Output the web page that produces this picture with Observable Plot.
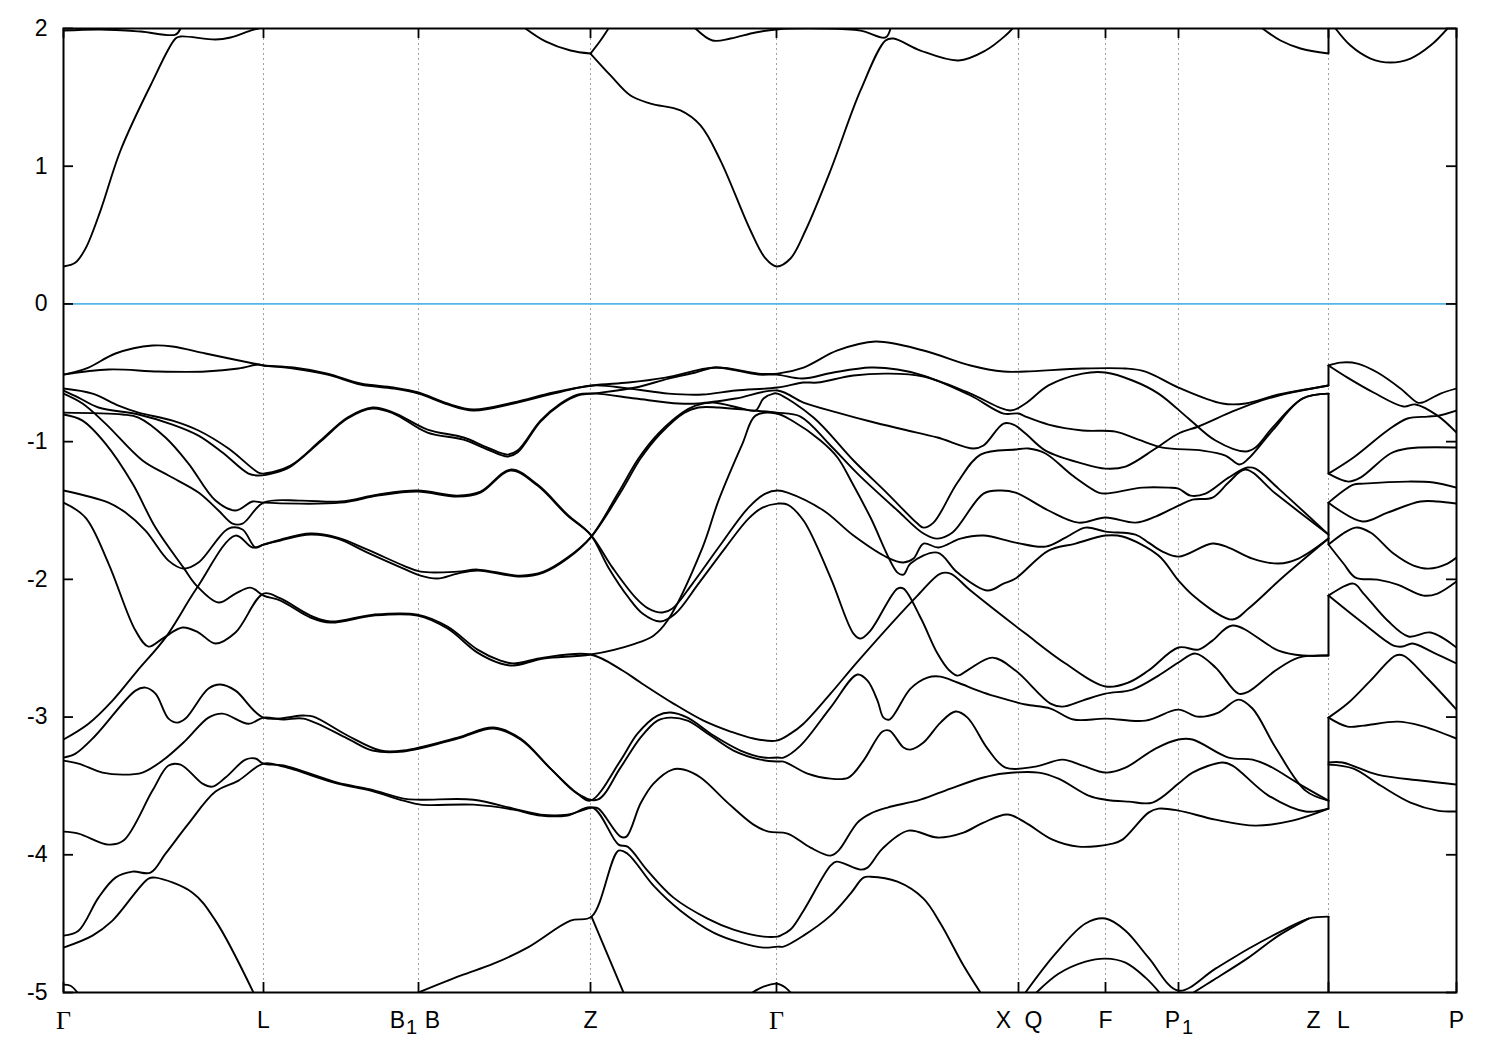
<!DOCTYPE html>
<html><head><meta charset="utf-8">
<script src="https://cdn.jsdelivr.net/npm/d3@7"></script>
<script src="https://cdn.jsdelivr.net/npm/@observablehq/plot@0.6"></script>
<style>html,body{margin:0;padding:0;background:#fff}svg{display:block}</style>
</head><body><div id="chart"></div>
<script>
// k-path position, energy (eV)
const bandA=[[0,-.513],[25,-.462],[52,-.360],[89,-.302],[109,-.309],[142,-.360],[195,-.440],[200,-.447],[230,-.462],[264,-.506],[297,-.578],[330,-.607],[355,-.643],[384,-.723],[410,-.767],[450,-.716],[490,-.643],[529,-.592],[565,-.571],[602,-.535],[652,-.462],[695,-.506],[714,-.506],[740,-.462],[774,-.338],[812,-.273],[860,-.338],[907,-.447],[940,-.491],[962,-.491],[1019,-.469],[1062,-.469],[1082,-.491],[1115,-.607],[1159,-.723],[1182,-.723],[1215,-.658],[1265,-.592]];
const bandB=[[0,-.513],[45,-.476],[95,-.491],[142,-.491],[175,-.469],[195,-.440],[200,-.447],[230,-.469],[264,-.513],[297,-.585],[330,-.614],[355,-.651],[384,-.730],[410,-.774],[450,-.723],[490,-.651],[529,-.592],[565,-.614],[605,-.651],[639,-.658],[672,-.629],[714,-.607],[740,-.571],[754,-.571],[790,-.520],[824,-.506],[860,-.527],[907,-.651],[947,-.774],[962,-.723],[985,-.592],[1019,-.506],[1042,-.498],[1069,-.556],[1095,-.651],[1125,-.832],[1152,-.992],[1182,-1.072],[1192,-1.043],[1209,-.898],[1239,-.687],[1265,-.651]];
const bandC=[[0,-.614],[29,-.651],[55,-.738],[75,-.789],[109,-.847],[135,-.919],[165,-1.050],[195,-1.225],[200,-1.232],[227,-1.174],[257,-.992],[284,-.825],[309,-.752],[330,-.789],[364,-.912],[400,-.970],[424,-1.043],[444,-1.094],[454,-1.065],[477,-.847],[497,-.723],[514,-.658],[532,-.651],[572,-.687],[615,-.723],[635,-.723],[672,-.687],[714,-.629],[740,-.716],[774,-.789],[807,-.854],[840,-.912],[874,-.970],[910,-1.050],[920,-1.028],[940,-.869],[950,-.876],[962,-.941],[982,-1.065],[1019,-1.159],[1042,-1.196],[1062,-1.181],[1092,-1.050],[1115,-.941],[1135,-.890],[1169,-.781],[1192,-.716],[1219,-.658],[1265,-.592]];
const bandD=[[0,-.629],[15,-.680],[35,-.752],[75,-.803],[109,-.876],[135,-.956],[159,-1.079],[185,-1.232],[195,-1.246],[212,-1.225],[227,-1.181],[257,-.999],[284,-.832],[309,-.760],[330,-.796],[364,-.934],[400,-.985],[424,-1.057],[444,-1.108],[454,-1.079],[477,-.854],[497,-.730],[514,-.665],[529,-.651],[572,-.607],[605,-.542],[632,-.498],[652,-.462],[695,-.513],[713,-.513],[739,-.542],[770,-.498],[807,-.462],[834,-.476],[860,-.520],[907,-.665],[940,-.796],[955,-.796],[962,-.818],[985,-.876],[1019,-.919],[1052,-.927],[1075,-.985],[1099,-1.043],[1139,-1.065],[1162,-1.101],[1176,-1.166],[1185,-1.123],[1209,-.919],[1239,-.687],[1265,-.651]];
const bandE=[[0,-.789],[59,-.803],[75,-.825],[102,-.970],[125,-1.159],[152,-1.428],[172,-1.500],[189,-1.435],[200,-1.443],[277,-1.443],[314,-1.392],[354,-1.363],[394,-1.399],[417,-1.370],[447,-1.210],[474,-1.319],[504,-1.537],[527,-1.675],[549,-1.915],[572,-2.132],[585,-2.212],[599,-2.241],[609,-2.212],[629,-2.031],[655,-1.769],[685,-1.479],[702,-1.377],[714,-1.355],[724,-1.370],[760,-1.500],[790,-1.682],[824,-1.842],[840,-1.878],[850,-1.849],[860,-1.740],[875,-1.769],[897,-1.704],[920,-1.682],[952,-1.733],[982,-1.762],[1002,-1.697],[1022,-1.624],[1042,-1.653],[1072,-1.675],[1085,-1.733],[1099,-1.798],[1115,-1.835],[1149,-1.740],[1165,-1.769],[1189,-1.849],[1215,-1.885],[1235,-1.849],[1265,-1.704]];
const bandF=[[0,-.651],[19,-.723],[42,-.869],[79,-1.137],[105,-1.246],[135,-1.370],[155,-1.500],[169,-1.595],[179,-1.595],[200,-1.443],[237,-1.428],[277,-1.435],[314,-1.385],[354,-1.355],[394,-1.392],[417,-1.363],[447,-1.203],[474,-1.312],[504,-1.530],[527,-1.675],[545,-1.915],[565,-2.132],[579,-2.248],[597,-2.306],[612,-2.248],[635,-2.031],[662,-1.769],[685,-1.559],[699,-1.479],[714,-1.450],[724,-1.457],[740,-1.573],[767,-1.987],[790,-2.394],[797,-2.430],[807,-2.372],[834,-2.067],[840,-2.067],[857,-2.277],[874,-2.539],[885,-2.655],[894,-2.699],[905,-2.655],[929,-2.568],[952,-2.662],[987,-2.902],[999,-2.924],[1019,-2.880],[1042,-2.830],[1069,-2.800],[1095,-2.699],[1115,-2.604],[1132,-2.539],[1152,-2.640],[1175,-2.830],[1185,-2.815],[1212,-2.662],[1235,-2.568],[1265,-2.553]];
const bandG=[[0,-1.355],[45,-1.443],[62,-1.515],[82,-1.646],[105,-1.864],[120,-1.922],[135,-1.878],[165,-1.631],[179,-1.638],[192,-1.769],[200,-1.748],[217,-1.718],[247,-1.675],[274,-1.704],[304,-1.806],[340,-1.922],[357,-1.973],[374,-1.994],[394,-1.958],[414,-1.936],[457,-1.980],[480,-1.951],[504,-1.849],[527,-1.697],[555,-1.370],[575,-1.123],[595,-.941],[619,-.789],[632,-.738],[649,-.716],[679,-.760],[692,-.774],[700,-.687],[710,-.651],[714,-.651],[750,-.825],[790,-1.137],[824,-1.377],[854,-1.595],[860,-1.624],[870,-1.588],[894,-1.297],[917,-1.094],[952,-1.057],[965,-1.050],[982,-1.086],[1009,-1.246],[1035,-1.370],[1042,-1.377],[1079,-1.334],[1105,-1.334],[1115,-1.341],[1127,-1.392],[1142,-1.377],[1165,-1.261],[1184,-1.188],[1192,-1.196],[1215,-1.341],[1265,-1.675]];
const bandH=[[0,-3.163],[25,-3.048],[49,-2.880],[74,-2.662],[102,-2.423],[133,-2.067],[172,-1.682],[189,-1.769],[200,-1.748],[217,-1.711],[247,-1.667],[274,-1.697],[304,-1.784],[340,-1.900],[357,-1.944],[394,-1.944],[414,-1.929],[457,-1.973],[480,-1.944],[504,-1.842],[527,-1.697],[557,-1.370],[577,-1.123],[597,-.941],[621,-.789],[635,-.752],[655,-.752],[689,-.774],[713,-.789],[737,-.818],[767,-1.028],[794,-1.232],[834,-1.500],[860,-1.667],[874,-1.704],[889,-1.660],[920,-1.377],[937,-1.355],[952,-1.370],[985,-1.500],[1015,-1.588],[1042,-1.551],[1072,-1.588],[1092,-1.544],[1115,-1.464],[1129,-1.421],[1149,-1.406],[1165,-1.297],[1182,-1.203],[1212,-1.377],[1265,-1.675]];
const bandI=[[0,-.803],[19,-.847],[42,-1.014],[69,-1.304],[92,-1.624],[120,-1.915],[133,-2.045],[155,-2.168],[172,-2.103],[187,-2.060],[200,-2.118],[217,-2.154],[247,-2.277],[267,-2.314],[310,-2.263],[354,-2.263],[384,-2.357],[414,-2.532],[437,-2.611],[450,-2.626],[480,-2.575],[527,-2.546],[572,-2.466],[590,-2.409],[604,-2.299],[639,-1.769],[655,-1.428],[679,-1.014],[692,-.811],[713,-.796],[730,-.854],[757,-.992],[774,-1.115],[789,-1.304],[807,-1.551],[834,-1.951],[840,-1.965],[847,-1.885],[874,-1.806],[894,-1.951],[924,-2.081],[940,-2.031],[952,-1.994],[985,-1.791],[1012,-1.740],[1042,-1.682],[1059,-1.689],[1095,-1.827],[1115,-2.009],[1132,-2.132],[1169,-2.292],[1185,-2.212],[1219,-1.987],[1265,-1.704]];
const bandJ=[[0,-1.443],[22,-1.551],[45,-1.885],[72,-2.372],[85,-2.488],[99,-2.430],[119,-2.350],[135,-2.386],[152,-2.466],[172,-2.386],[200,-2.103],[217,-2.139],[247,-2.263],[267,-2.306],[310,-2.256],[354,-2.256],[384,-2.343],[414,-2.510],[437,-2.590],[450,-2.611],[480,-2.568],[527,-2.546],[559,-2.662],[577,-2.749],[610,-2.902],[640,-3.026],[667,-3.105],[690,-3.156],[713,-3.171],[727,-3.120],[740,-3.048],[767,-2.830],[795,-2.590],[854,-2.118],[877,-1.958],[887,-1.958],[907,-2.081],[962,-2.394],[1002,-2.611],[1042,-2.778],[1065,-2.749],[1085,-2.662],[1115,-2.495],[1135,-2.510],[1149,-2.445],[1169,-2.335],[1215,-2.517],[1239,-2.553],[1265,-2.553]];
const bandK=[[0,-3.294],[12,-3.265],[32,-3.134],[72,-2.808],[82,-2.786],[92,-2.830],[105,-3.011],[114,-3.040],[122,-3.011],[145,-2.793],[157,-2.764],[172,-2.808],[200,-3.004],[240,-2.989],[250,-2.997],[284,-3.134],[317,-3.243],[340,-3.243],[394,-3.149],[430,-3.076],[457,-3.156],[487,-3.374],[514,-3.556],[527,-3.607],[557,-3.316],[574,-3.120],[594,-2.989],[607,-2.967],[624,-3.004],[650,-3.134],[677,-3.243],[700,-3.294],[714,-3.294],[720,-3.294],[737,-3.207],[767,-2.931],[794,-2.691],[804,-2.735],[814,-2.880],[820,-3.004],[826,-3.018],[847,-2.793],[864,-2.713],[877,-2.706],[894,-2.749],[920,-2.822],[940,-2.866],[962,-2.909],[987,-2.938],[1010,-3.018],[1042,-3.011],[1082,-3.026],[1115,-2.946],[1134,-2.997],[1155,-2.967],[1175,-2.873],[1189,-2.938],[1212,-3.221],[1242,-3.534],[1265,-3.607]];
const bandL=[[0,-3.316],[15,-3.338],[39,-3.403],[59,-3.418],[79,-3.403],[99,-3.316],[122,-3.171],[145,-3.004],[159,-2.975],[185,-3.048],[200,-3.004],[220,-3.018],[240,-3.011],[284,-3.156],[309,-3.243],[340,-3.250],[394,-3.156],[430,-3.083],[457,-3.163],[487,-3.374],[514,-3.556],[534,-3.600],[557,-3.367],[577,-3.149],[594,-3.026],[607,-3.004],[624,-3.026],[647,-3.134],[670,-3.243],[697,-3.309],[714,-3.323],[720,-3.323],[744,-3.410],[767,-3.447],[785,-3.439],[800,-3.316],[819,-3.105],[826,-3.098],[840,-3.221],[847,-3.236],[860,-3.185],[877,-3.040],[892,-2.960],[904,-3.004],[924,-3.229],[942,-3.367],[972,-3.360],[999,-3.309],[1019,-3.352],[1042,-3.403],[1062,-3.367],[1092,-3.229],[1115,-3.163],[1129,-3.163],[1165,-3.294],[1189,-3.309],[1205,-3.352],[1235,-3.483],[1265,-3.607]];
const bandM=[[0,-3.832],[15,-3.846],[45,-3.926],[60,-3.897],[89,-3.534],[105,-3.352],[117,-3.345],[139,-3.483],[149,-3.505],[162,-3.439],[182,-3.309],[192,-3.301],[200,-3.338],[220,-3.352],[274,-3.476],[307,-3.526],[340,-3.592],[357,-3.600],[410,-3.600],[450,-3.665],[477,-3.708],[504,-3.708],[529,-3.657],[535,-3.665],[557,-3.868],[563,-3.868],[577,-3.628],[590,-3.483],[609,-3.381],[620,-3.381],[637,-3.439],[664,-3.621],[690,-3.781],[705,-3.832],[724,-3.846],[747,-3.948],[767,-4.006],[775,-3.970],[794,-3.766],[807,-3.701],[824,-3.657],[857,-3.600],[887,-3.519],[920,-3.439],[940,-3.410],[975,-3.403],[995,-3.447],[1025,-3.570],[1042,-3.600],[1065,-3.614],[1089,-3.621],[1115,-3.483],[1129,-3.403],[1159,-3.330],[1169,-3.352],[1205,-3.570],[1242,-3.686],[1265,-3.665]];
const bandN=[[0,-4.587],[15,-4.551],[35,-4.311],[52,-4.166],[69,-4.122],[87,-4.130],[102,-3.992],[125,-3.774],[152,-3.541],[175,-3.461],[200,-3.338],[220,-3.360],[274,-3.483],[307,-3.534],[340,-3.607],[357,-3.636],[410,-3.636],[450,-3.672],[477,-3.715],[504,-3.715],[529,-3.657],[555,-3.926],[564,-3.941],[584,-4.115],[610,-4.311],[644,-4.463],[670,-4.543],[700,-4.594],[714,-4.594],[717,-4.587],[727,-4.543],[740,-4.406],[767,-4.079],[773,-4.050],[797,-4.108],[804,-4.093],[819,-3.955],[845,-3.825],[874,-3.875],[900,-3.839],[920,-3.766],[944,-3.708],[962,-3.766],[989,-3.890],[1015,-3.941],[1049,-3.919],[1059,-3.890],[1085,-3.694],[1095,-3.665],[1115,-3.679],[1152,-3.745],[1192,-3.788],[1229,-3.752],[1265,-3.665]];
const bandO=[[0,-4.674],[29,-4.587],[49,-4.478],[85,-4.173],[92,-4.166],[129,-4.275],[152,-4.478],[190,-5.001]];
const bandP=[[355,-5],[397,-4.878],[430,-4.791],[464,-4.674],[507,-4.478],[528,-4.449],[555,-3.970],[564,-3.992],[590,-4.224],[617,-4.406],[650,-4.565],[677,-4.638],[700,-4.674],[714,-4.667],[720,-4.667],[740,-4.587],[767,-4.442],[787,-4.282],[800,-4.166],[807,-4.159],[834,-4.195],[860,-4.318],[877,-4.499],[900,-4.804],[917,-5.001]];
const bandQ=[[528,-4.449],[560,-5]];
const capA=[[0,-4.943],[7,-4.951],[14,-5]];
const capB=[[689,-5],[700,-4.958],[714,-4.936],[722,-4.965],[727,-5]];
const arcA=[[962,-5],[992,-4.718],[1022,-4.499],[1042,-4.463],[1062,-4.551],[1085,-4.747],[1115,-4.987],[1152,-4.827],[1185,-4.682],[1219,-4.551],[1245,-4.463],[1265,-4.449]];
const arcB=[[973,-5],[995,-4.864],[1022,-4.776],[1042,-4.754],[1062,-4.783],[1082,-4.892],[1096,-5]];
const arcC=[[1130,-5],[1149,-4.914],[1185,-4.747],[1215,-4.587],[1245,-4.463]];
const topA=[[0,.272],[12,.301],[22,.402],[37,.678],[57,1.114],[87,1.586],[112,1.927],[117,1.942],[152,1.920],[167,1.935],[187,1.985],[195,2]];
const topB=[[0,1.985],[37,1.993],[77,1.978],[112,1.956],[117,2]];
const topC=[[462,2],[482,1.906],[507,1.840],[527,1.818]];
const topD=[[527,1.818],[537,1.913],[545,2]];
const topE=[[527,1.818],[547,1.659],[567,1.513],[587,1.455],[617,1.405],[637,1.296],[657,1.041],[687,.533],[702,.330],[713,.272],[727,.330],[742,.533],[767,.969],[797,1.550],[822,1.913],[830,1.927],[857,1.840],[895,1.768],[922,1.840],[942,1.949],[949,2]];
const topF=[[632,2],[649,1.913],[667,1.927],[692,1.971],[713,1.993],[757,2],[797,1.985],[822,1.935],[827,2]];
const topG=[[1199,2],[1217,1.913],[1237,1.855],[1265,1.818]];
const topH=[[1272,2],[1287,1.876],[1307,1.782],[1327,1.753],[1347,1.782],[1367,1.876],[1384,2]];
const lpA=[[1265,-.447],[1277,-.426],[1294,-.433],[1314,-.498],[1337,-.614],[1354,-.716],[1359,-.716],[1377,-.651],[1393,-.614]];
const lpB=[[1265,-.447],[1284,-.535],[1310,-.643],[1340,-.745],[1352,-.730],[1374,-.811],[1393,-.934]];
const lpC=[[1265,-1.232],[1290,-1.115],[1324,-.919],[1344,-.832],[1364,-.818],[1375,-.811],[1393,-.774]];
const lpD=[[1265,-1.232],[1285,-1.290],[1297,-1.261],[1327,-1.086],[1344,-1.050],[1393,-1.043]];
const lpE=[[1265,-1.443],[1290,-1.312],[1300,-1.305],[1344,-1.290],[1370,-1.297],[1393,-1.334]];
const lpF=[[1265,-1.443],[1299,-1.580],[1324,-1.515],[1357,-1.435],[1374,-1.435],[1393,-1.450]];
const lpG=[[1265,-1.747],[1292,-1.624],[1307,-1.660],[1330,-1.813],[1350,-1.900],[1365,-1.922],[1384,-1.885],[1393,-1.842]];
const lpH=[[1265,-1.747],[1280,-1.885],[1292,-1.987],[1314,-2.002],[1334,-2.038],[1360,-2.118],[1374,-2.103],[1393,-2.016]];
const lpI=[[1265,-2.118],[1290,-2.031],[1300,-2.103],[1324,-2.299],[1345,-2.415],[1367,-2.386],[1393,-2.495]];
const lpJ=[[1265,-2.118],[1300,-2.321],[1330,-2.481],[1339,-2.488],[1349,-2.466],[1370,-2.532],[1393,-2.611]];
const lpK=[[1265,-3.004],[1284,-2.902],[1307,-2.735],[1332,-2.553],[1340,-2.553],[1364,-2.720],[1393,-2.946]];
const lpL=[[1265,-3.004],[1284,-3.069],[1300,-3.062],[1334,-3.033],[1357,-3.062],[1393,-3.156]];
const lpM=[[1265,-3.330],[1279,-3.330],[1314,-3.418],[1357,-3.461],[1393,-3.490]];
const lpN=[[1265,-3.345],[1290,-3.374],[1317,-3.497],[1347,-3.621],[1374,-3.679],[1393,-3.686]];
const jumpK=1265;
const jumpFrom=[1.818,-.447,-.651,-1.443,-2.118,-3.004,-4.449];
const jumpTo=[2,-.592,-1.232,-1.747,-2.553,-3.665,-5];
const bands=[bandA,bandB,bandC,bandD,bandE,bandF,bandG,bandH,bandI,bandJ,bandK,bandL,bandM,bandN,bandO,bandP,bandQ,capA,capB,arcA,arcB,arcC,topA,topB,topC,topD,topE,topF,topG,topH,lpA,lpB,lpC,lpD,lpE,lpF,lpG,lpH,lpI,lpJ,lpK,lpL,lpM,lpN];

const kTicks=[0,200,355,527,713,955,1042,1115,1265,1393];
const eTicks=[2,1,0,-1,-2,-3,-4,-5];
const labelText=["L","B","B","Z","X","Q","F","P","Z","L","P"];
const labelK=[200,334,369,527,940,970,1042,1109,1250,1280,1393];
const subText=["1","1"];
const subK=[348,1124];
const gammaK=[0,713];
const tickLenK=10, tickLenE=10/137.71;
const lineStyle={x:d=>d[0],y:d=>d[1],stroke:"#000",strokeWidth:1.9,curve:"catmull-rom",clip:true};

const svg=Plot.plot({
  width:1500,height:1050,marginLeft:63,marginRight:44,marginTop:28,marginBottom:58,
  style:{fontFamily:"Liberation Sans",background:"#fff",color:"#000"},
  x:{domain:[0,1393],axis:null},
  y:{domain:[-5,2],axis:null},
  marks:[
    Plot.ruleX(kTicks.slice(1,-1),{x:d=>d,stroke:"#a0a0a0",strokeWidth:1,strokeDasharray:"2,3"}),
    Plot.ruleY([0],{stroke:"#56B4E9",strokeWidth:1.8}),
    ...bands.map(b=>Plot.line(b,lineStyle)),
    Plot.ruleX(jumpFrom.map((v,i)=>i),{x:()=>jumpK,y1:i=>jumpFrom[i],y2:i=>jumpTo[i],stroke:"#000",strokeWidth:2}),
    Plot.ruleX(kTicks,{x:d=>d,y1:-5,y2:-5+tickLenE,stroke:"#000",strokeWidth:1.8}),
    Plot.ruleX(kTicks,{x:d=>d,y1:2,y2:2-tickLenE,stroke:"#000",strokeWidth:1.8}),
    Plot.ruleY(eTicks,{y:d=>d,x1:0,x2:tickLenK,stroke:"#000",strokeWidth:1.8}),
    Plot.ruleY(eTicks,{y:d=>d,x1:1393,x2:1393-tickLenK,stroke:"#000",strokeWidth:1.8}),
    Plot.frame({stroke:"#000",strokeWidth:2}),
    Plot.text(eTicks,{x:()=>0,y:d=>d,text:d=>String(d),dx:-16,textAnchor:"end",fontSize:23,fill:"#000"}),
    Plot.text(labelText.map((t,i)=>i),{x:i=>labelK[i],y:()=>-5,text:i=>labelText[i],dy:28,fontSize:23,fill:"#000"}),
    Plot.text(subText.map((t,i)=>i),{x:i=>subK[i],y:()=>-5,text:i=>subText[i],dy:35,fontSize:20,fill:"#000"}),
    Plot.text(gammaK,{x:d=>d,y:()=>-5,text:()=>"Γ",dy:28,fontSize:26,fontFamily:"Liberation Serif",fill:"#000"})
  ]
});
document.getElementById("chart").append(svg);
</script></body></html>
